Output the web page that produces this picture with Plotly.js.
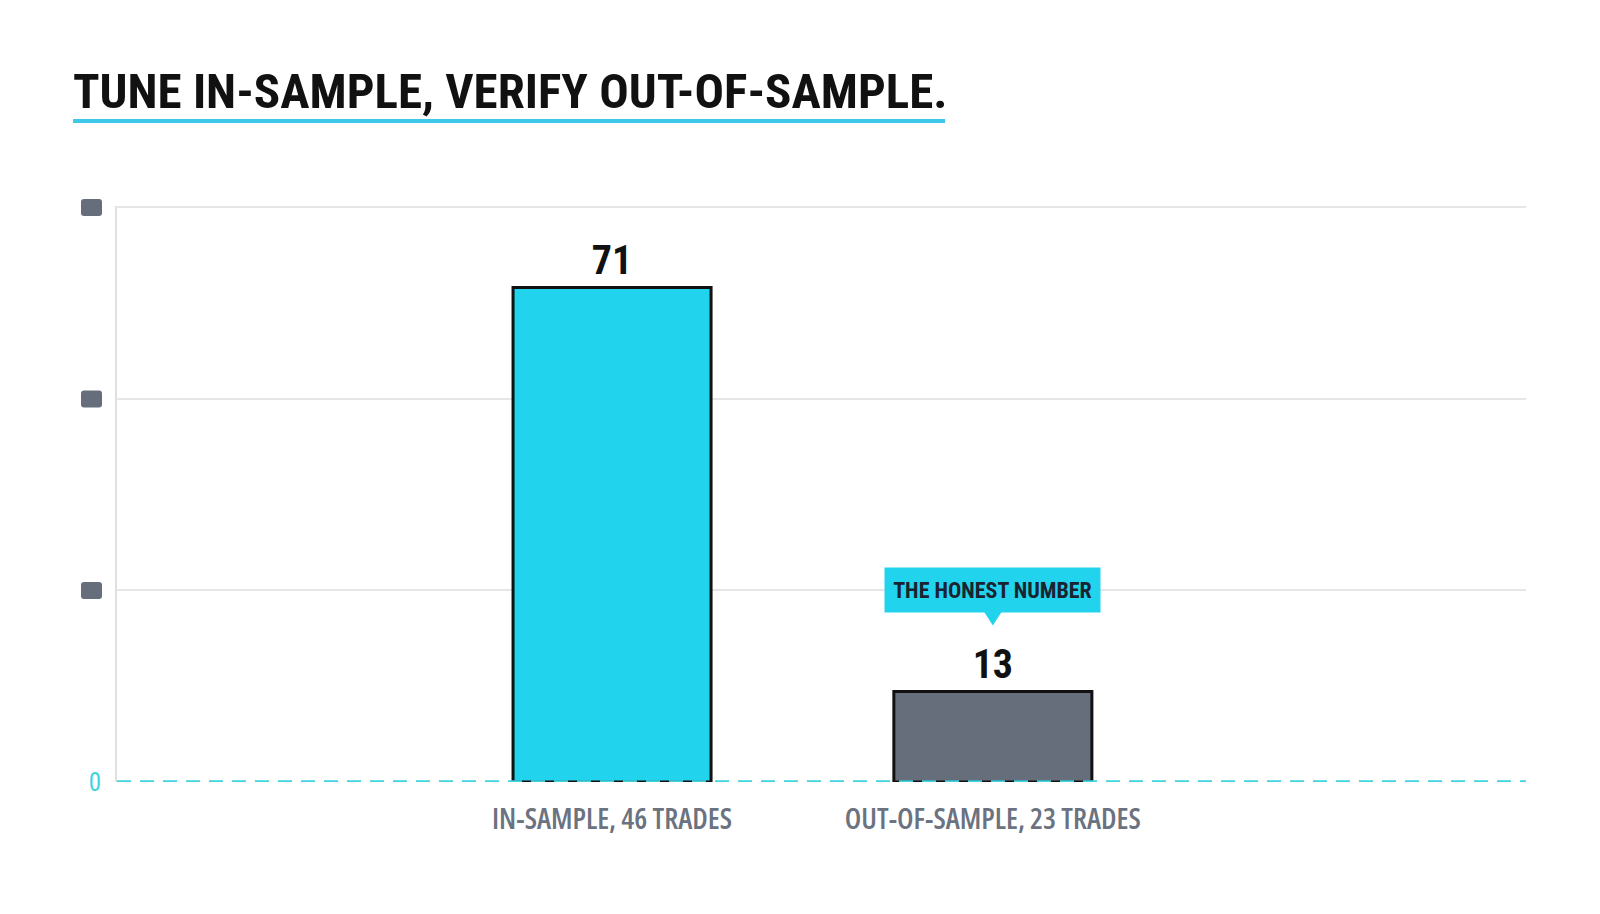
<!DOCTYPE html>
<html>
<head>
<meta charset="utf-8">
<script src="https://cdn.plot.ly/plotly-3.0.1.min.js"></script>
<style>
  html, body { margin: 0; padding: 0; background: #fff; }
  #chart { width: 1600px; height: 914px; }
  /* condensed cut of Roboto / Open Sans for all chart text */
  #chart text { font-stretch: 75%; }
</style>
</head>
<body>
<div id="chart"></div>
<script>
// chart values
var categories = ['IN-SAMPLE, 46 TRADES', 'OUT-OF-SAMPLE, 23 TRADES'];
var values = [71, 13];
var barColors = ['#22d3ee', '#666e7c'];
var yMax = 82.7;
var tickVals = [0, 27.5, 55, 82.5];
var tickText = ['0', '', '', ''];
var calloutText = 'THE HONEST NUMBER';
var calloutIndex = 1;

var cyan = '#22d3ee';

var data = [{
    x: categories,
    y: values,
    type: 'bar',
    width: 0.52,
    marker: {
        color: barColors,
        line: {color: '#111', width: 3}
    },
    text: values.map(String),
    textposition: 'outside',
    textfont: {family: 'Roboto, sans-serif', size: 40, color: '#111', weight: 700},
    cliponaxis: false,
    hoverinfo: 'none',
    showlegend: false
}];

var shapes = [];

// grey boxes standing in for the hidden tick labels
var boxPath = 'M -33 -8.5 L -18 -8.5 Q -15 -8.5 -15 -5.5 L -15 5.5 Q -15 8.5 -18 8.5 ' +
              'L -33 8.5 Q -36 8.5 -36 5.5 L -36 -5.5 Q -36 -8.5 -33 -8.5 Z';
tickVals.forEach(function(v, i) {
    if (tickText[i] !== '') return;
    shapes.push({
        type: 'path', xref: 'paper', yref: 'paper',
        xsizemode: 'pixel', ysizemode: 'pixel',
        xanchor: 0, yanchor: v / yMax,
        path: boxPath,
        fillcolor: '#666e7c',
        line: {width: 0}
    });
});

// dashed cyan baseline
shapes.push({
    type: 'line', xref: 'paper', yref: 'y',
    x0: 0, x1: 1, y0: 0, y1: 0,
    line: {color: '#3fd3e0', width: 3.5, dash: '14px,9px'},
    layer: 'above'
});

// title underline
shapes.push({
    type: 'line', xref: 'paper', yref: 'paper',
    x0: -0.0312, x1: 0.5877, y0: 1.1476, y1: 1.1476,
    line: {color: '#3cc8e6', width: 4}
});

// callout pointer
shapes.push({
    type: 'path', xref: 'x', yref: 'y',
    xsizemode: 'pixel', ysizemode: 'pixel',
    xanchor: categories[calloutIndex], yanchor: values[calloutIndex],
    path: 'M -9 80 L 9 80 L 0 66 Z',
    fillcolor: cyan,
    line: {width: 0}
});

var layout = {
    width: 1600,
    height: 914,
    paper_bgcolor: '#fff',
    plot_bgcolor: '#fff',
    margin: {l: 117, r: 74, t: 206, b: 132},
    title: {
        text: 'TUNE IN-SAMPLE, VERIFY OUT-OF-SAMPLE.',
        font: {family: 'Roboto, sans-serif', size: 49, color: '#111', weight: 700},
        xref: 'container', yref: 'container',
        x: 73 / 1600, xanchor: 'left',
        y: 1 - 91 / 914, yanchor: 'middle'
    },
    xaxis: {
        type: 'category',
        range: [-1.3, 2.4],
        showgrid: false,
        showline: false,
        zeroline: false,
        ticks: '',
        ticklabelstandoff: 17,
        tickfont: {family: '"Open Sans", sans-serif', size: 29, color: '#6b7280', weight: 600},
        fixedrange: true
    },
    yaxis: {
        range: [0, yMax],
        tickmode: 'array',
        tickvals: tickVals,
        ticktext: tickText,
        tickfont: {family: 'Roboto, sans-serif', size: 25, color: '#3fd3e0'},
        ticks: '',
        ticklabelstandoff: 9,
        showgrid: true,
        gridcolor: '#e6e6e6',
        gridwidth: 2,
        showline: true,
        linecolor: '#e0e0e0',
        linewidth: 2,
        zeroline: false,
        fixedrange: true
    },
    shapes: shapes,
    annotations: [{
        x: categories[calloutIndex],
        y: values[calloutIndex],
        xref: 'x', yref: 'y',
        yshift: 101,
        showarrow: false,
        text: calloutText,
        font: {family: 'Roboto, sans-serif', size: 22, color: '#1a2330', weight: 700},
        bgcolor: cyan,
        width: 209,
        height: 38,
        borderpad: 3
    }],
    bargap: 0.25
};

Plotly.newPlot('chart', data, layout, {displayModeBar: false, staticPlot: true});
</script>
</body>
</html>
